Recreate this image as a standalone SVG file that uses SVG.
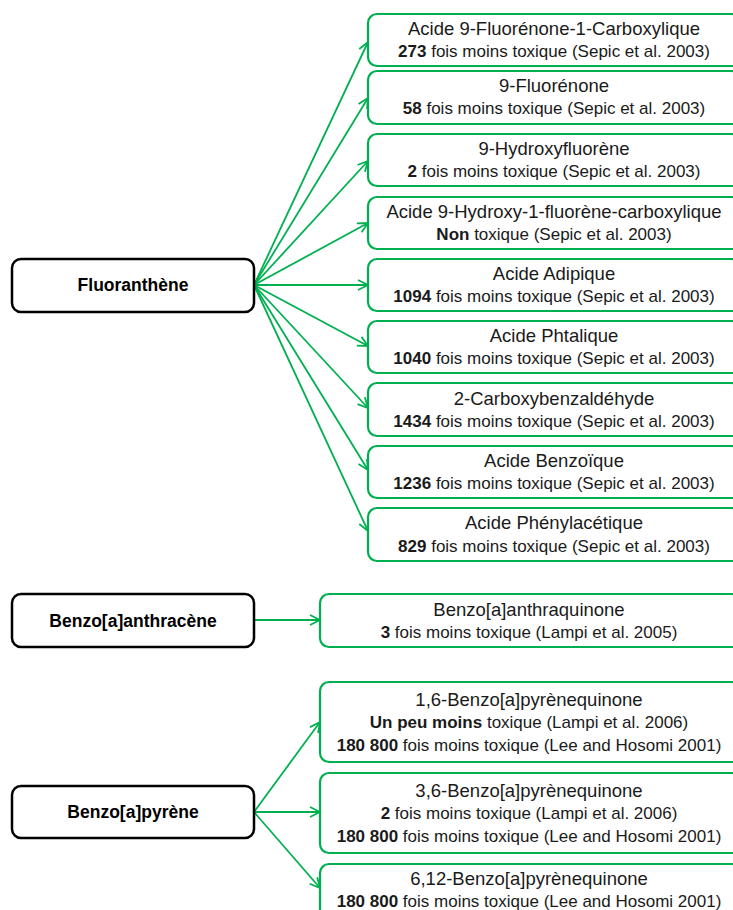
<svg xmlns="http://www.w3.org/2000/svg" width="733" height="910" viewBox="0 0 733 910">
<defs>
<style>
.src rect{fill:#fff;stroke:#000;stroke-width:2.5}
.src text{font-family:"Liberation Sans",Arial,sans-serif;font-size:17.5px;font-weight:bold;fill:#000;text-anchor:middle}
.dst rect{fill:#fff;stroke:#00B050;stroke-width:2.2}
.dst text{font-family:"Liberation Sans",Arial,sans-serif;font-size:17px;fill:#1a1a1a;text-anchor:middle}
.dst text.t{font-size:18.5px}
.b{font-weight:bold}
.conn line{stroke:#00B050;stroke-width:1.8;fill:none}
</style>
<marker id="arr" viewBox="0 0 12 12" refX="11" refY="6" markerWidth="12" markerHeight="12" markerUnits="userSpaceOnUse" orient="auto">
<path d="M1,1 L11,6 L1,11" fill="none" stroke="#00B050" stroke-width="1.8"/>
</marker>
</defs>
<rect width="733" height="910" fill="#fff"/>

<g id="connectors" class="conn">
<line x1="254" y1="285" x2="368" y2="42" marker-end="url(#arr)"/>
<line x1="254" y1="285" x2="368" y2="98" marker-end="url(#arr)"/>
<line x1="254" y1="285" x2="368" y2="161" marker-end="url(#arr)"/>
<line x1="254" y1="285" x2="368" y2="223" marker-end="url(#arr)"/>
<line x1="254" y1="285" x2="368" y2="285" marker-end="url(#arr)"/>
<line x1="254" y1="285" x2="368" y2="346" marker-end="url(#arr)"/>
<line x1="254" y1="285" x2="368" y2="408" marker-end="url(#arr)"/>
<line x1="254" y1="285" x2="368" y2="470" marker-end="url(#arr)"/>
<line x1="254" y1="285" x2="368" y2="531" marker-end="url(#arr)"/>
<line x1="254" y1="620" x2="320" y2="620" marker-end="url(#arr)"/>
<line x1="254" y1="812" x2="320" y2="722" marker-end="url(#arr)"/>
<line x1="254" y1="812" x2="320" y2="812" marker-end="url(#arr)"/>
<line x1="254" y1="812" x2="320" y2="888" marker-end="url(#arr)"/>
</g>

<g id="fluoranthene" class="src">
<rect x="12" y="259" width="242" height="53" rx="9"/>
<text x="133" y="291">Fluoranthène</text>
</g>
<g id="benzoanthracene" class="src">
<rect x="12" y="594" width="242" height="53" rx="9"/>
<text x="133" y="627">Benzo[a]anthracène</text>
</g>
<g id="benzopyrene" class="src">
<rect x="12" y="786" width="242" height="52" rx="9"/>
<text x="133" y="818">Benzo[a]pyrène</text>
</g>

<g id="f1" class="dst">
<rect x="368" y="14" width="372" height="52" rx="9"/>
<text class="t" x="554" y="35">Acide 9-Fluorénone-1-Carboxylique</text>
<text x="554" y="57"><tspan class="b">273</tspan> fois moins toxique (Sepic et al. 2003)</text>
</g>
<g id="f2" class="dst">
<rect x="368" y="71" width="372" height="53" rx="9"/>
<text class="t" x="554" y="92">9-Fluorénone</text>
<text x="554" y="114"><tspan class="b">58</tspan> fois moins toxique (Sepic et al. 2003)</text>
</g>
<g id="f3" class="dst">
<rect x="368" y="134" width="372" height="52" rx="9"/>
<text class="t" x="554" y="155">9-Hydroxyfluorène</text>
<text x="554" y="177"><tspan class="b">2</tspan> fois moins toxique (Sepic et al. 2003)</text>
</g>
<g id="f4" class="dst">
<rect x="368" y="197" width="372" height="52" rx="9"/>
<text class="t" x="554" y="218">Acide 9-Hydroxy-1-fluorène-carboxylique</text>
<text x="554" y="240"><tspan class="b">Non</tspan> toxique (Sepic et al. 2003)</text>
</g>
<g id="f5" class="dst">
<rect x="368" y="259" width="372" height="52" rx="9"/>
<text class="t" x="554" y="280">Acide Adipique</text>
<text x="554" y="302"><tspan class="b">1094</tspan> fois moins toxique (Sepic et al. 2003)</text>
</g>
<g id="f6" class="dst">
<rect x="368" y="321" width="372" height="52" rx="9"/>
<text class="t" x="554" y="342">Acide Phtalique</text>
<text x="554" y="364"><tspan class="b">1040</tspan> fois moins toxique (Sepic et al. 2003)</text>
</g>
<g id="f7" class="dst">
<rect x="368" y="383" width="372" height="53" rx="9"/>
<text class="t" x="554" y="405">2-Carboxybenzaldéhyde</text>
<text x="554" y="427"><tspan class="b">1434</tspan> fois moins toxique (Sepic et al. 2003)</text>
</g>
<g id="f8" class="dst">
<rect x="368" y="446" width="372" height="52" rx="9"/>
<text class="t" x="554" y="467">Acide Benzoïque</text>
<text x="554" y="489"><tspan class="b">1236</tspan> fois moins toxique (Sepic et al. 2003)</text>
</g>
<g id="f9" class="dst">
<rect x="368" y="508" width="372" height="53" rx="9"/>
<text class="t" x="554" y="529">Acide Phénylacétique</text>
<text x="554" y="552"><tspan class="b">829</tspan> fois moins toxique (Sepic et al. 2003)</text>
</g>

<g id="ba1" class="dst">
<rect x="320" y="594" width="420" height="53" rx="9"/>
<text class="t" x="529" y="616">Benzo[a]anthraquinone</text>
<text x="529" y="638"><tspan class="b">3</tspan> fois moins toxique (Lampi et al. 2005)</text>
</g>

<g id="bp1" class="dst">
<rect x="320" y="682" width="420" height="80" rx="9"/>
<text class="t" x="529" y="706">1,6-Benzo[a]pyrènequinone</text>
<text x="529" y="728"><tspan class="b">Un peu moins</tspan> toxique (Lampi et al. 2006)</text>
<text x="529" y="751"><tspan class="b">180 800</tspan> fois moins toxique (Lee and Hosomi 2001)</text>
</g>
<g id="bp2" class="dst">
<rect x="320" y="773" width="420" height="80" rx="9"/>
<text class="t" x="529" y="797">3,6-Benzo[a]pyrènequinone</text>
<text x="529" y="819"><tspan class="b">2</tspan> fois moins toxique (Lampi et al. 2006)</text>
<text x="529" y="842"><tspan class="b">180 800</tspan> fois moins toxique (Lee and Hosomi 2001)</text>
</g>
<g id="bp3" class="dst">
<rect x="320" y="864" width="420" height="80" rx="9"/>
<text class="t" x="529" y="885">6,12-Benzo[a]pyrènequinone</text>
<text x="529" y="907"><tspan class="b">180 800</tspan> fois moins toxique (Lee and Hosomi 2001)</text>
</g>
</svg>
